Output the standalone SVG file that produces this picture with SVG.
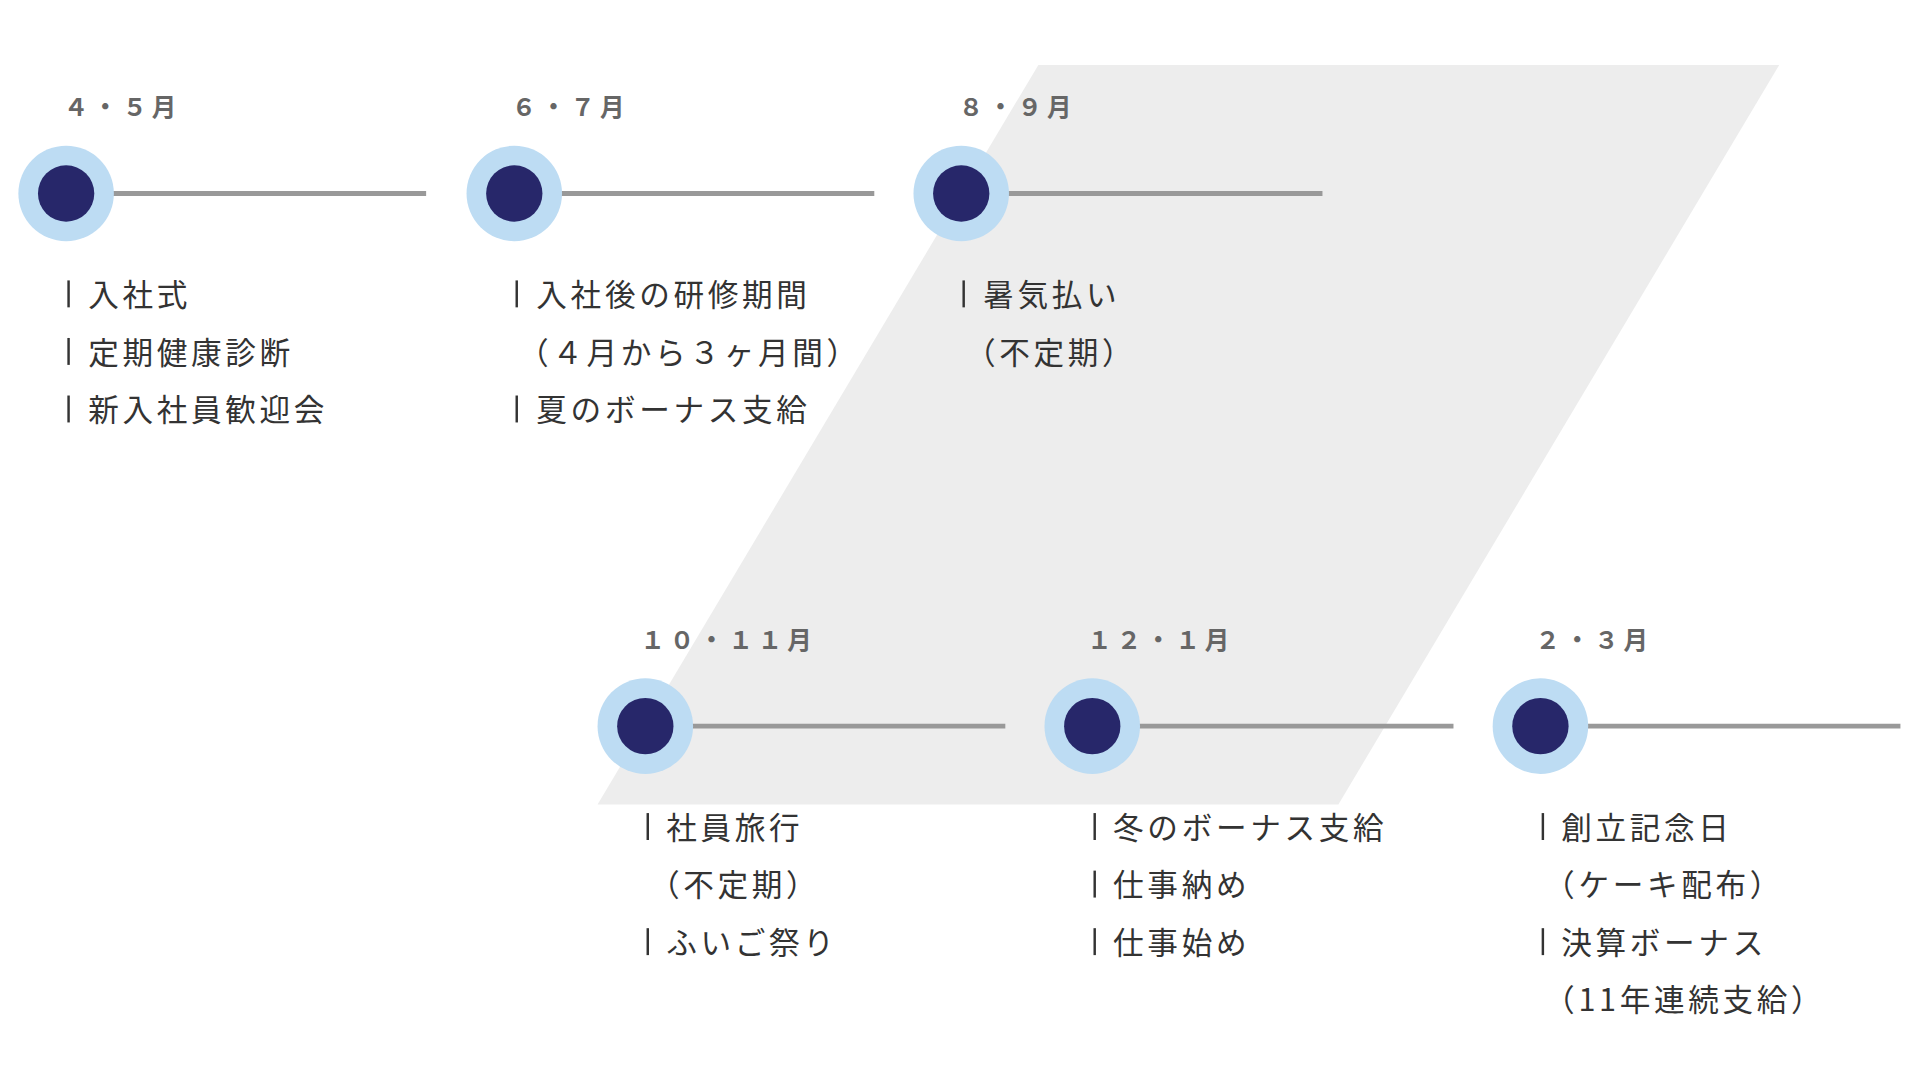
<svg xmlns="http://www.w3.org/2000/svg" width="1920" height="1080" viewBox="0 0 1920 1080">
<style>
.o{fill:#bddcf3}.i{fill:#27276a}.ln{stroke:#999;stroke-width:4}
.m{font-family:"Noto Sans CJK JP",sans-serif;font-size:20px;font-weight:700;fill:#666;letter-spacing:4px}
.t{font-family:"Noto Sans CJK JP",sans-serif;font-size:25px;fill:#333;letter-spacing:3px}
.b{stroke:#333;stroke-width:2}
</style>
<rect width="1920" height="1080" fill="#fff"/>
<g transform="scale(1.2245,1.2245)">
<polygon points="848,53 1453,53 1093,657 488,657" fill="#ededed"/>
<g id="connectors">
<line class="ln" x1="54" y1="158" x2="348" y2="158"/>
<line class="ln" x1="420" y1="158" x2="714" y2="158"/>
<line class="ln" x1="785" y1="158" x2="1080" y2="158"/>
<line class="ln" x1="527" y1="593" x2="821" y2="593"/>
<line class="ln" x1="892" y1="593" x2="1187" y2="593"/>
<line class="ln" x1="1258" y1="593" x2="1552" y2="593"/>
</g>
<g id="n1"><circle class="o" cx="54" cy="158" r="39"/><circle class="i" cx="54" cy="158" r="23"/>
<text class="m" x="52" y="95">４・５月</text>
<line class="b" x1="56" y1="229" x2="56" y2="251"/><text class="t" x="72" y="250">入社式</text>
<line class="b" x1="56" y1="276" x2="56" y2="298"/><text class="t" x="72" y="297">定期健康診断</text>
<line class="b" x1="56" y1="323" x2="56" y2="345"/><text class="t" x="72" y="344">新入社員歓迎会</text></g>
<g id="n2"><circle class="o" cx="420" cy="158" r="39"/><circle class="i" cx="420" cy="158" r="23"/>
<text class="m" x="418" y="95">６・７月</text>
<line class="b" x1="422" y1="229" x2="422" y2="251"/><text class="t" x="438" y="250">入社後の研修期間</text>
<text class="t" x="423" y="297">（４月から３ヶ月間）</text>
<line class="b" x1="422" y1="323" x2="422" y2="345"/><text class="t" x="438" y="344">夏のボーナス支給</text></g>
<g id="n3"><circle class="o" cx="785" cy="158" r="39"/><circle class="i" cx="785" cy="158" r="23"/>
<text class="m" x="783" y="95">８・９月</text>
<line class="b" x1="787" y1="229" x2="787" y2="251"/><text class="t" x="803" y="250">暑気払い</text>
<text class="t" x="788" y="297">（不定期）</text></g>
<g id="n4"><circle class="o" cx="527" cy="593" r="39"/><circle class="i" cx="527" cy="593" r="23"/>
<text class="m" x="523" y="530">１０・１１月</text>
<line class="b" x1="529" y1="664" x2="529" y2="686"/><text class="t" x="544" y="685">社員旅行</text>
<text class="t" x="530" y="732">（不定期）</text>
<line class="b" x1="529" y1="758" x2="529" y2="780"/><text class="t" x="544" y="779">ふいご祭り</text></g>
<g id="n5"><circle class="o" cx="892" cy="593" r="39"/><circle class="i" cx="892" cy="593" r="23"/>
<text class="m" x="888" y="530">１２・１月</text>
<line class="b" x1="894" y1="664" x2="894" y2="686"/><text class="t" x="909" y="685">冬のボーナス支給</text>
<line class="b" x1="894" y1="711" x2="894" y2="733"/><text class="t" x="909" y="732">仕事納め</text>
<line class="b" x1="894" y1="758" x2="894" y2="780"/><text class="t" x="909" y="779">仕事始め</text></g>
<g id="n6"><circle class="o" cx="1258" cy="593" r="39"/><circle class="i" cx="1258" cy="593" r="23"/>
<text class="m" x="1254" y="530">２・３月</text>
<line class="b" x1="1260" y1="664" x2="1260" y2="686"/><text class="t" x="1275" y="685">創立記念日</text>
<text class="t" x="1261" y="732">（ケーキ配布）</text>
<line class="b" x1="1260" y1="758" x2="1260" y2="780"/><text class="t" x="1275" y="779">決算ボーナス</text>
<text class="t" x="1261" y="826">（11年連続支給）</text></g>
</g>
</svg>
